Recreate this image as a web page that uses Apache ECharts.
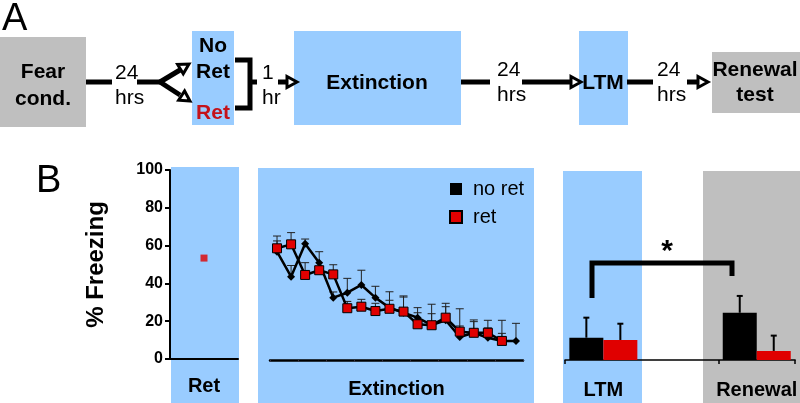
<!DOCTYPE html>
<html><head><meta charset="utf-8">
<script src="https://cdn.jsdelivr.net/npm/echarts@6/dist/echarts.min.js"></script>
<style>html,body{margin:0;padding:0;background:#fff}#c{width:800px;height:403px}</style>
</head><body><div id="c"></div>
<script>
// ---------- data ----------
const retCategories = ['Ret'];
const retValues = [53.4];

const extinctionTrials = ['1','2','3','4','5','6','7','8','9','10','11','12','13','14','15','16','17','18'];
const noRetExt    = [57.3,44.1,61.5,51.5,33.0,35.6,39.7,33.0,27.7,25.0,22.4,18.5,21.0,12.2,14.4,11.8,10.1,10.1];
const noRetExtSem = [5.7,5.9,2.5,5.8,3.0,7.6,7.8,6.0,8.4,8.9,5.3,11.0,9.0,5.8,6.8,9.2,10.9,9.3];
const retExt      = [59.1,61.2,45.0,47.5,45.3,27.4,28.2,25.9,27.1,25.6,18.9,18.4,22.4,15.0,14.4,14.4,10.1];
const retExtSem   = [6.5,6.2,6.5,2.0,5.1,3.6,3.9,4.1,4.5,7.7,6.1,6.1,5.8,12.1,5.9,2.6,4.0];

const testCategories = ['LTM','','Renewal'];
const noRetTest    = [11.8, null, 25.0];
const noRetTestSem = [10.6, null, 8.9];
const retTest      = [10.6, null, 4.8];
const retTestSem   = [8.6, null, 8.1];

const yMin = 0, yMax = 100, yStep = 20;

// ---------- styling ----------
const FONT = '"Liberation Sans", Arial, Helvetica, sans-serif';
const BLUE = '#99ccff', GREY = '#bfbfbf', RED = '#e00000', TXTRED = '#c4121a';
const BAR_W = 34;

function errRender(offsetPx, capW, lw, color) {
  return function (params, api) {
    const x = api.value(0), m = api.value(1), e = api.value(2);
    if (m == null || isNaN(m) || isNaN(e)) return;
    const p0 = api.coord([x, m]);
    const p1 = api.coord([x, m + e]);
    const cx = p0[0] + offsetPx;
    return { type: 'group', children: [
      { type: 'line', shape: { x1: cx, y1: p0[1], x2: cx, y2: p1[1] }, style: { stroke: color, lineWidth: lw } },
      { type: 'line', shape: { x1: cx - capW / 2, y1: p1[1], x2: cx + capW / 2, y2: p1[1] }, style: { stroke: color, lineWidth: lw } }
    ]};
  };
}

function txt(t, x, y, opts) {
  opts = opts || {};
  return { type: 'text', x: x, y: y, z: 20, style: {
    text: t, fontFamily: FONT, fontSize: opts.size || 21, fontWeight: opts.weight || 'normal',
    fill: opts.color || '#000', textAlign: opts.align || 'center', textVerticalAlign: 'middle' } };
}
function rect(x, y, w, h, c) {
  return { type: 'rect', z: -10, shape: { x: x, y: y, width: w, height: h }, style: { fill: c } };
}
function poly(pts, lw) {
  return { type: 'polyline', z: 15, shape: { points: pts }, style: { stroke: '#000', lineWidth: lw || 5, fill: null, lineJoin: 'miter' } };
}
function arrowHead(tx, ty, dx, dy) {
  const len = Math.hypot(dx, dy); dx /= len; dy /= len;
  const L = 10, W = 5.5;
  const bx = tx - dx * L, by = ty - dy * L;
  const nx = -dy, ny = dx;
  return { type: 'polygon', z: 16, shape: { points: [[tx, ty], [bx + nx * W, by + ny * W], [bx - nx * W, by - ny * W]] },
    style: { fill: '#fff', stroke: '#000', lineWidth: 3, lineJoin: 'miter' } };
}

const graphics = [
  // Panel A boxes
  rect(0, 37, 86, 90, GREY),
  rect(192, 31, 42, 94, BLUE),
  rect(294, 31, 167, 94, BLUE),
  rect(579, 31, 49, 94, BLUE),
  rect(712, 52, 88, 61, GREY),
  // Panel B backgrounds
  rect(171, 167, 68, 236, BLUE),
  rect(258, 168, 276, 235, BLUE),
  rect(563, 171, 79, 232, BLUE),
  rect(703, 171, 97, 232, GREY),
  // connectors
  poly([[86, 82], [112, 82]]),
  poly([[137, 82], [160, 82]]),
  poly([[160, 82], [180, 70]]),
  poly([[160, 82], [180, 95]]),
  arrowHead(189, 64, 20, -12),
  arrowHead(190, 101, 20, 13),
  poly([[235, 60], [250, 60], [250, 108], [235, 108]]),
  poly([[250, 82], [257, 82]]),
  poly([[278, 82], [288, 82]]),
  arrowHead(297, 82, 1, 0),
  poly([[461, 82], [490, 82]]),
  poly([[522, 82], [572, 82]]),
  arrowHead(581, 82, 1, 0),
  poly([[627, 82], [653, 82]]),
  poly([[687, 82], [700, 82]]),
  arrowHead(708, 82, 1, 0),
  // Panel A texts
  txt('A', 2, 20, { size: 38, align: 'left' }),
  txt('Fear', 43, 72, { weight: 'bold' }),
  txt('cond.', 43, 99, { weight: 'bold' }),
  txt('24', 115, 73, { align: 'left' }),
  txt('hrs', 115, 98, { align: 'left' }),
  txt('No', 213, 46, { weight: 'bold' }),
  txt('Ret', 213, 72, { weight: 'bold' }),
  txt('Ret', 213, 113, { weight: 'bold', color: TXTRED }),
  txt('1', 262, 73, { align: 'left' }),
  txt('hr', 262, 98, { align: 'left' }),
  txt('Extinction', 377, 83, { weight: 'bold' }),
  txt('24', 497, 70, { align: 'left' }),
  txt('hrs', 497, 95, { align: 'left' }),
  txt('LTM', 603, 83, { weight: 'bold' }),
  txt('24', 657, 70, { align: 'left' }),
  txt('hrs', 657, 95, { align: 'left' }),
  txt('Renewal', 755, 70, { weight: 'bold' }),
  txt('test', 755, 95, { weight: 'bold' }),
  // Panel B extras
  txt('B', 36, 182, { size: 38, align: 'left' }),
  poly([[592, 298], [592, 263], [732, 263], [732, 276]]),
  txt('*', 667, 252, { size: 30, weight: 'bold' })
];

const option = {
  animation: false,
  textStyle: { fontFamily: FONT },
  grid: [
    { left: 170, top: 170, width: 68, height: 189 },
    { left: 270, top: 171, width: 253, height: 189 },
    { left: 565, top: 171, width: 232, height: 189 }
  ],
  legend: {
    left: 444, top: 174, orient: 'vertical', itemWidth: 12, itemHeight: 12, itemGap: 8,
    textStyle: { fontSize: 20, color: '#000', fontFamily: FONT, padding: [0, 0, 0, 6] },
    data: [{ name: 'no ret', icon: 'rect' }, { name: 'ret', icon: 'rect' }]
  },
  xAxis: [
    { gridIndex: 0, type: 'category', data: retCategories,
      axisLine: { lineStyle: { color: '#000', width: 2 } }, axisTick: { show: false },
      axisLabel: { margin: 17, fontSize: 20, fontWeight: 'bold', color: '#000', fontFamily: FONT } },
    { gridIndex: 1, type: 'category', data: extinctionTrials,
      axisLine: { lineStyle: { color: '#000', width: 2.5 } },
      axisTick: { show: true, length: 2, lineStyle: { color: '#334', width: 1 } },
      axisLabel: { show: false },
      name: 'Extinction', nameLocation: 'middle', nameGap: 19,
      nameTextStyle: { fontSize: 20, fontWeight: 'bold', color: '#000', fontFamily: FONT } },
    { gridIndex: 2, type: 'category', data: testCategories,
      axisLine: { lineStyle: { color: '#000', width: 1.5 } },
      axisTick: { show: true, length: 4, lineStyle: { color: '#000', width: 1.5 } },
      axisLabel: { margin: 20, fontSize: 20, fontWeight: 'bold', color: '#000', fontFamily: FONT } }
  ],
  yAxis: [
    { gridIndex: 0, type: 'value', min: yMin, max: yMax, interval: yStep,
      axisLine: { show: true, lineStyle: { color: '#000', width: 2 } },
      axisTick: { show: true, length: 5, lineStyle: { color: '#000', width: 2 } },
      axisLabel: { fontSize: 16, fontWeight: 'bold', color: '#000', margin: 7, fontFamily: FONT },
      splitLine: { show: false },
      name: '% Freezing', nameLocation: 'middle', nameRotate: 90, nameGap: 62,
      nameTextStyle: { fontSize: 24, fontWeight: 'bold', color: '#000', fontFamily: FONT } },
    { gridIndex: 1, type: 'value', min: yMin, max: yMax, interval: yStep, show: false, splitLine: { show: false } },
    { gridIndex: 2, type: 'value', min: yMin, max: yMax, interval: yStep, show: false, splitLine: { show: false } }
  ],
  graphic: graphics,
  series: [
    { type: 'scatter', xAxisIndex: 0, yAxisIndex: 0, data: retValues, symbol: 'rect', symbolSize: 7,
      itemStyle: { color: RED }, z: 5 },
    { type: 'custom', xAxisIndex: 1, yAxisIndex: 1, z: 3, silent: true,
      renderItem: errRender(0, 8, 1, '#222'),
      data: noRetExt.map((v, i) => [i, v, noRetExtSem[i]]) },
    { type: 'custom', xAxisIndex: 1, yAxisIndex: 1, z: 3, silent: true,
      renderItem: errRender(0, 8, 1, '#222'),
      data: retExt.map((v, i) => [i, v, retExtSem[i]]) },
    { name: 'no ret', type: 'line', xAxisIndex: 1, yAxisIndex: 1, data: noRetExt,
      symbol: 'diamond', symbolSize: 8, itemStyle: { color: '#000' },
      lineStyle: { color: '#000', width: 2.5 }, z: 4 },
    { name: 'ret', type: 'line', xAxisIndex: 1, yAxisIndex: 1, data: retExt,
      symbol: 'rect', symbolSize: 9, itemStyle: { color: RED, borderColor: '#000', borderWidth: 1 },
      lineStyle: { color: '#000', width: 2.5 }, z: 5 },
    { name: 'no ret', type: 'bar', xAxisIndex: 2, yAxisIndex: 2, data: noRetTest, barWidth: BAR_W, barGap: '0%',
      itemStyle: { color: '#000' }, z: 2 },
    { name: 'ret', type: 'bar', xAxisIndex: 2, yAxisIndex: 2, data: retTest, barWidth: BAR_W, barGap: '0%',
      itemStyle: { color: RED }, z: 2 },
    { type: 'custom', xAxisIndex: 2, yAxisIndex: 2, z: 1, silent: true,
      renderItem: errRender(-BAR_W / 2, 6, 2, '#000'),
      data: noRetTest.map((v, i) => [i, v, noRetTestSem[i]]) },
    { type: 'custom', xAxisIndex: 2, yAxisIndex: 2, z: 1, silent: true,
      renderItem: errRender(BAR_W / 2, 6, 2, '#000'),
      data: retTest.map((v, i) => [i, v, retTestSem[i]]) }
  ]
};
const chart = echarts.init(document.getElementById('c'), null, { renderer: 'canvas' });
chart.setOption(option);
</script></body></html>
